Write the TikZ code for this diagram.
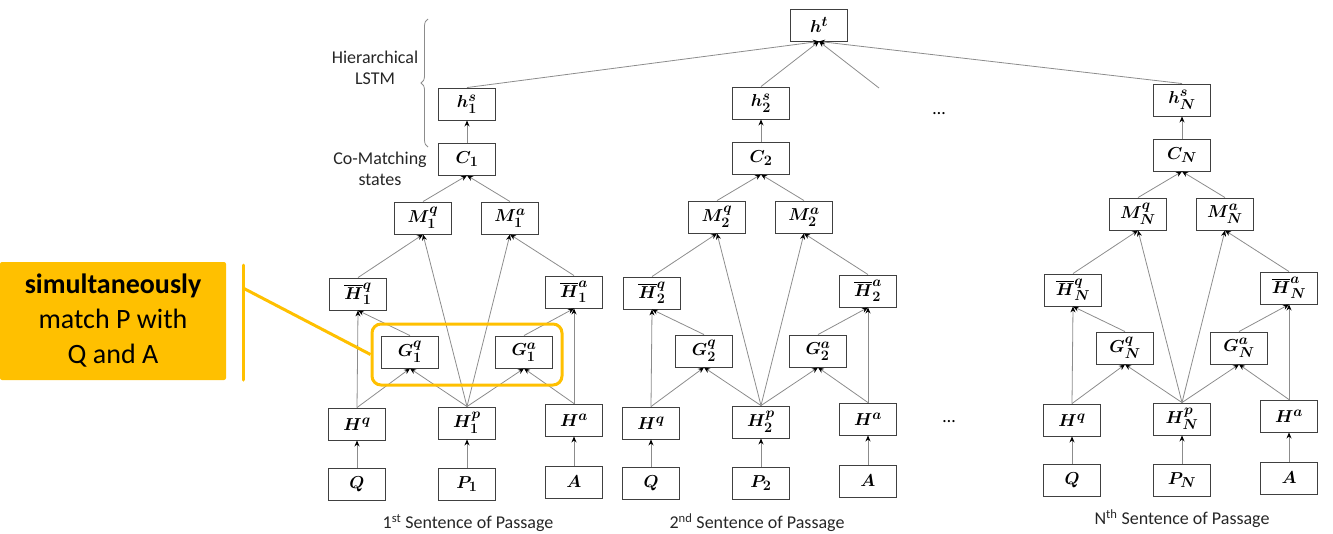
\documentclass[tikz,border=0pt]{standalone}
\usepackage{amsmath}
\usepackage[no-math]{fontspec}
\setmainfont{Carlito}
\usetikzlibrary{arrows.meta,decorations.pathreplacing}
\definecolor{gold}{HTML}{FFC000}

\begin{document}
\begin{tikzpicture}[x=1pt,y=-1pt,>={Stealth[length=6pt,width=5pt,black]}]
    \tikzstyle{box}=[draw=black!75,line width=0.9pt,minimum width=57pt,minimum height=32pt,inner sep=0pt,font=\fontsize{19}{22}\selectfont]
    \tikzstyle{link}=[->,draw=black!45,line width=0.8pt]
    \tikzstyle{lbl}=[font=\fontsize{18}{21}\selectfont,align=center,text=black!85]
    \useasboundingbox (0,0) rectangle (1333,533);

    \foreach \col/\x/\y in {1/467/484,2/761/483,N/1182/480}{
      \begin{scope}[shift={(\x,\y)}]
        \node[box] (Q\col)  at (-110,0)   {$\boldsymbol{Q}$};
        \node[box] (P\col)  at (0,0)      {$\boldsymbol{P_\col}$};
        \node[box] (A\col)  at (107,-2)   {$\boldsymbol{A}$};
        \node[box] (Hq\col) at (-110,-60) {$\boldsymbol{H^q}$};
        \node[box] (Hp\col) at (0,-61)    {$\boldsymbol{H^p_\col}$};
        \node[box] (Ha\col) at (107,-64)  {$\boldsymbol{H^a}$};
        \node[box] (Gq\col) at (-57,-132) {$\boldsymbol{G^q_\col}$};
        \node[box] (Ga\col) at (57,-132)  {$\boldsymbol{G^a_\col}$};
        \node[box] (Bq\col) at (-109,-190) {$\boldsymbol{\overline{H}^q_\col}$};
        \node[box] (Ba\col) at (107,-192) {$\boldsymbol{\overline{H}^a_\col}$};
        \node[box] (Mq\col) at (-44,-266) {$\boldsymbol{M^q_\col}$};
        \node[box] (Ma\col) at (43,-266)  {$\boldsymbol{M^a_\col}$};
        \node[box] (C\col)  at (0,-325)   {$\boldsymbol{C_\col}$};
        \node[box] (hs\col) at (0,-380)   {$\boldsymbol{h^s_\col}$};

        \draw[link] (Q\col.north) -- (Hq\col.south);
        \draw[link] (P\col.north) -- (Hp\col.south);
        \draw[link] (A\col.north) -- (Ha\col.south);
        \draw[link] (Hq\col.north) -- (Gq\col.south);
        \draw[link] (Hp\col.north) -- (Gq\col.south);
        \draw[link] (Hp\col.north) -- (Ga\col.south);
        \draw[link] (Ha\col.north) -- (Ga\col.south);
        \draw[link] (Hq\col.north) -- (Bq\col.south);
        \draw[link] (Ha\col.north) -- (Ba\col.south);
        \draw[link] (Gq\col.north) -- (Bq\col.south);
        \draw[link] (Ga\col.north) -- (Ba\col.south);
        \draw[link] (Bq\col.north) -- (Mq\col.south);
        \draw[link] (Hp\col.north) -- (Mq\col.south);
        \draw[link] (Hp\col.north) -- (Ma\col.south);
        \draw[link] (Ba\col.north) -- (Ma\col.south);
        \draw[link] (Mq\col.north) -- (C\col.south);
        \draw[link] (Ma\col.north) -- (C\col.south);
        \draw[link] (C\col.north) -- (hs\col.south);
      \end{scope}
    }

    \node[box] (ht) at (819,25) {$\boldsymbol{h^t}$};
    \coordinate (more) at (879,88);
    \draw[link] (hs1.north) -- (ht.south);
    \draw[link] (hs2.north) -- (ht.south);
    \draw[link] (hsN.north) -- (ht.south);
    \draw[link] (more) -- (ht.south);

    \node (dots1) at (939,114) {\fontsize{18}{21}\selectfont\dots};
    \node (dots2) at (949,422) {\fontsize{18}{21}\selectfont\dots};

    \node[lbl] (sent1) at (468,523) {1\textsuperscript{st} Sentence of Passage};
    \node[lbl] (sent2) at (757,523) {2\textsuperscript{nd} Sentence of Passage};
    \node[lbl] (sentN) at (1182,519) {N\textsuperscript{th} Sentence of Passage};

    \node[lbl] (hier) at (375,68) {Hierarchical\\LSTM};
    \node[lbl] (comatch) at (380,169) {Co-Matching\\states};
    \draw[black!45,line width=0.8pt,decorate,decoration={brace,amplitude=7pt}] (428,147) -- (428,19);

    \node[fill=gold,rounded corners=2pt,minimum width=226pt,minimum height=118pt,inner sep=0pt,
          align=center,font=\fontsize{28}{35}\selectfont] (note) at (113,321)
          {\textbf{simultaneously}\\match P with\\Q and A};
    \node[draw=gold,line width=3pt,rounded corners=9pt,minimum width=190pt,minimum height=61pt] (grp) at (467,354.5) {};
    \coordinate (bar) at (243,288);
    \draw[gold,line width=3pt,line cap=round] (243,265) -- (243,380);
    \draw[gold,line width=3pt] (bar) -- (grp.west);
\end{tikzpicture}
\end{document}
